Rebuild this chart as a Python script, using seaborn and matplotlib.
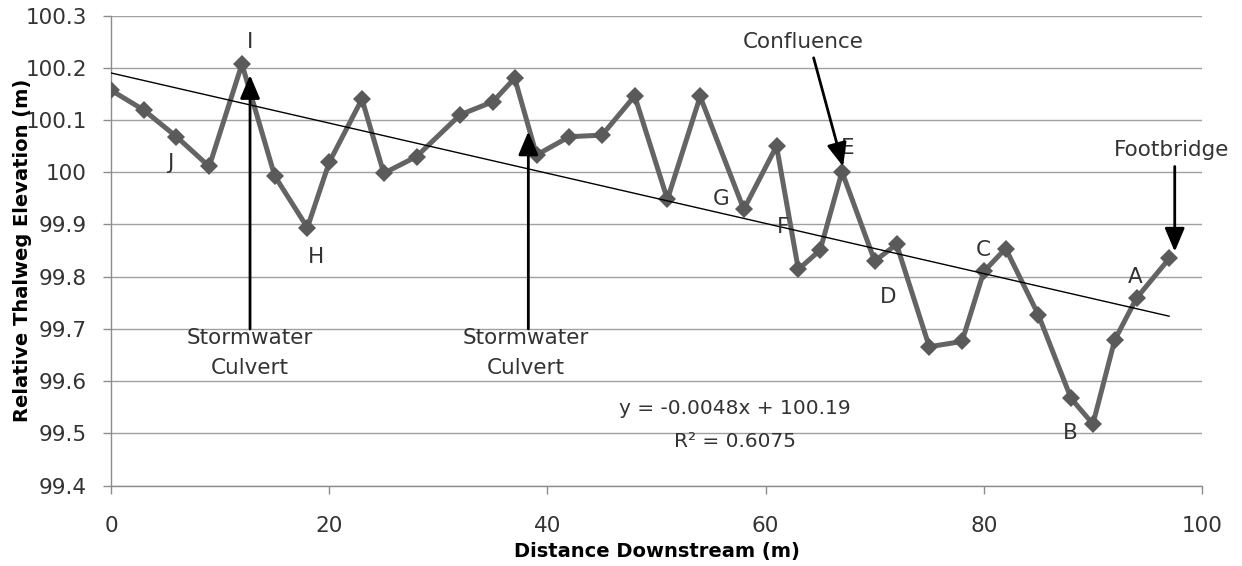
import numpy as np
import pandas as pd
import matplotlib
matplotlib.use("Agg")
import matplotlib.pyplot as plt
from matplotlib.ticker import FixedLocator, FixedFormatter
import seaborn as sns

# Thalweg survey along the reach
distance = [0, 3, 6, 9, 12, 15, 18, 20, 23, 25, 28, 32, 35, 37, 39, 42, 45, 48, 51, 54,
            58, 61, 63, 65, 67, 70, 72, 75, 78, 80, 82, 85, 88, 90, 92, 94, 97]
elevation = [100.157, 100.119, 100.068, 100.011, 100.207, 99.993, 99.894, 100.019, 100.140,
             99.998, 100.030, 100.110, 100.135, 100.180, 100.033, 100.068, 100.071, 100.146,
             99.948, 100.145, 99.929, 100.050, 99.814, 99.851, 100.001, 99.830, 99.862,
             99.666, 99.676, 99.810, 99.854, 99.727, 99.567, 99.518, 99.679, 99.759, 99.835]

# Linear trend
trend_slope = -0.0048
trend_intercept = 100.19
trend_r2 = 0.6075

# Pool / riffle letters
letter_names = ["I", "J", "H", "G", "F", "E", "D", "C", "B", "A"]
letter_x = [12.74, 5.41, 18.79, 55.9, 61.6, 67.5, 71.25, 79.96, 87.9, 93.9]
letter_y = [100.249, 100.018, 99.838, 99.949, 99.896, 100.046, 99.762, 99.851, 99.50, 99.80]

x_ticks = [0, 20, 40, 60, 80, 100]
y_ticks = [99.4, 99.5, 99.6, 99.7, 99.8, 99.9, 100.0, 100.1, 100.2, 100.3]
y_tick_labels = ["99.4", "99.5", "99.6", "99.7", "99.8", "99.9", "100", "100.1", "100.2", "100.3"]

sns.set_style("white")
plt.rcParams["font.family"] = ["DejaVu Sans"]

TEXT = "#333333"
GRID = "#a0a0a0"
SERIES = "#646464"
FS = 15.5

fig = plt.figure(figsize=(12.42, 5.66), dpi=100)
ax = fig.add_axes([0.0894, 0.1419, 0.8784, 0.8307])

df = pd.DataFrame({"distance": distance, "elevation": elevation})
sns.lineplot(data=df, x="distance", y="elevation", ax=ax, color=SERIES, lw=3.6,
             marker="D", markersize=9.5, markeredgewidth=0, markerfacecolor="#5a5a5a",
             estimator=None, sort=False, zorder=3)

trend_x = np.array([distance[0], distance[-1]], dtype=float)
trend_df = pd.DataFrame({"x": trend_x, "y": trend_slope * trend_x + trend_intercept})
sns.lineplot(data=trend_df, x="x", y="y", ax=ax, color="black", lw=1.0, zorder=4,
             estimator=None)

ax.set_xlim(0, 100)
ax.set_ylim(99.4, 100.3)
ax.xaxis.set_major_locator(FixedLocator(x_ticks))
ax.yaxis.set_major_locator(FixedLocator(y_ticks))
ax.yaxis.set_major_formatter(FixedFormatter(y_tick_labels))
ax.grid(axis="y", color=GRID, lw=1.0)
ax.grid(axis="x", visible=False)
ax.set_axisbelow(True)

for side in ["top", "right"]:
    ax.spines[side].set_visible(False)
for side in ["left", "bottom"]:
    ax.spines[side].set_color("#8c8c8c")
    ax.spines[side].set_linewidth(1.0)

ax.tick_params(axis="y", direction="out", length=5.8, width=1, color="#8c8c8c",
               pad=11.5, labelsize=FS, labelcolor=TEXT, left=True)
ax.tick_params(axis="x", direction="out", length=5.8, width=1, color="#8c8c8c",
               pad=16, labelsize=FS, labelcolor=TEXT, bottom=True)

ax.set_xlabel("Distance Downstream (m)", fontsize=14, fontweight="bold", color="black",
              va="center")
ax.set_ylabel("Relative Thalweg Elevation (m)", fontsize=14, fontweight="bold",
              color="black", va="center")
ax.xaxis.set_label_coords(0.5, -0.139)
ax.yaxis.set_label_coords(-0.0816, 0.5)

# Letters beside the survey points
for name, lx, ly in zip(letter_names, letter_x, letter_y):
    ax.text(lx, ly, name, fontsize=FS, color=TEXT, ha="center", va="center", zorder=5)

arrow_style = dict(arrowstyle="-|>,head_length=1.3,head_width=0.55", lw=2.0,
                   color="black", mutation_scale=11, shrinkA=0, shrinkB=0)

# Stormwater culverts
for cx, tip_y, text_x in [(12.74, 100.186, 12.7), (38.25, 100.078, 38.0)]:
    ax.annotate("", xy=(cx, tip_y), xytext=(cx, 99.7), arrowprops=arrow_style, zorder=6)
    ax.text(text_x, 99.654, "Stormwater\nCulvert", fontsize=FS, color=TEXT,
            ha="center", va="center", linespacing=1.65, zorder=5)

# Confluence
ax.annotate("", xy=(67.1, 100.011), xytext=(64.4, 100.219), arrowprops=arrow_style, zorder=6)
ax.text(63.4, 100.249, "Confluence", fontsize=FS, color=TEXT, ha="center", va="center")

# Footbridge
ax.annotate("", xy=(97.5, 99.848), xytext=(97.5, 100.011), arrowprops=arrow_style, zorder=6)
ax.text(97.2, 100.043, "Footbridge", fontsize=FS, color=TEXT, ha="center", va="center")

# Trend equation
ax.text(57.2, 99.547, f"y = {trend_slope:.4f}x + {trend_intercept:.2f}", fontsize=14.5,
        color=TEXT, ha="center", va="center")
ax.text(57.2, 99.484, f"R\u00b2 = {trend_r2:.4f}", fontsize=14.5, color=TEXT,
        ha="center", va="center")

fig.savefig("out.png", dpi=100, facecolor="white")
